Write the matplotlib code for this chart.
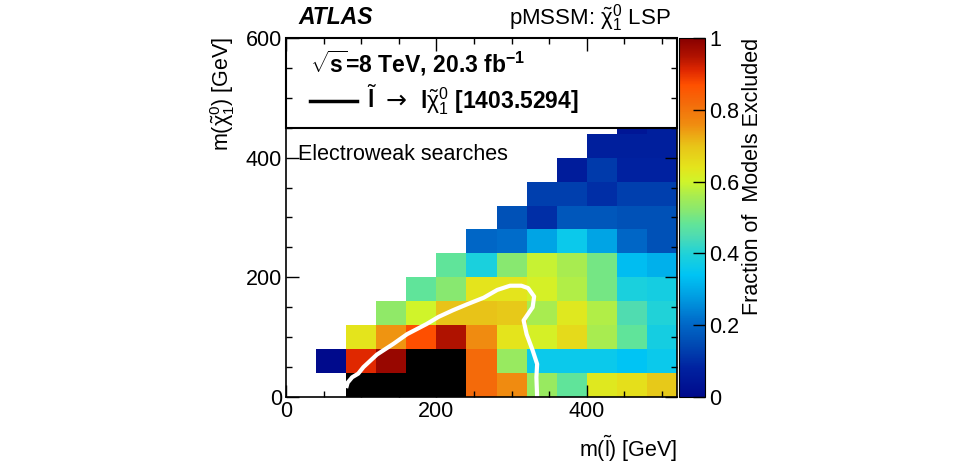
import numpy as np
import matplotlib
matplotlib.use("Agg")
import matplotlib.pyplot as plt
from matplotlib.colors import LinearSegmentedColormap, ListedColormap, Normalize
from matplotlib.patches import Rectangle
from matplotlib.ticker import MultipleLocator

plt.rcParams['font.family'] = ['Liberation Sans', 'DejaVu Sans']
plt.rcParams['mathtext.fontset'] = 'custom'
plt.rcParams['mathtext.rm'] = 'Liberation Sans'
plt.rcParams['mathtext.it'] = 'Liberation Sans:italic'
plt.rcParams['mathtext.bf'] = 'Liberation Sans:bold'
plt.rcParams['mathtext.sf'] = 'Liberation Sans'
plt.rcParams['mathtext.default'] = 'rm'

# ---------------- data ----------------
slepton_edges = [0, 40, 80, 120, 160, 200, 240, 280, 320, 360, 400, 440, 480, 520]
neutralino_edges = [0, 40, 80, 120, 160, 200, 240, 280, 320, 360, 400, 440, 480]
n = np.nan
# fraction of models excluded, one row per neutralino-mass bin (bottom -> top)
row_000_040 = [n, n, 1.00, 1.00, 1.00, 1.00, 0.82, 0.76, 0.54, 0.48, 0.63, 0.65, 0.69]
row_040_080 = [n, 0.00, 0.91, 0.98, 1.00, 1.00, 0.82, 0.54, 0.36, 0.36, 0.36, 0.34, 0.36]
row_080_120 = [n, n, 0.64, 0.75, 0.87, 0.95, 0.76, 0.64, 0.61, 0.66, 0.56, 0.48, 0.38]
row_120_160 = [n, n, n, 0.53, 0.60, 0.70, 0.70, 0.69, 0.56, 0.63, 0.57, 0.45, 0.40]
row_160_200 = [n, n, n, n, 0.48, 0.52, 0.64, 0.64, 0.61, 0.57, 0.50, 0.39, 0.38]
row_200_240 = [n, n, n, n, n, 0.48, 0.39, 0.52, 0.59, 0.56, 0.50, 0.33, 0.31]
row_240_280 = [n, n, n, n, n, n, 0.20, 0.21, 0.29, 0.36, 0.29, 0.20, 0.16]
row_280_320 = [n, n, n, n, n, n, n, 0.16, 0.10, 0.17, 0.17, 0.16, 0.16]
row_320_360 = [n, n, n, n, n, n, n, n, 0.13, 0.13, 0.10, 0.13, 0.13]
row_360_400 = [n, n, n, n, n, n, n, n, n, 0.06, 0.12, 0.08, 0.08]
row_400_440 = [n, n, n, n, n, n, n, n, n, n, 0.07, 0.07, 0.07]
row_440_480 = [n, n, n, n, n, n, n, n, n, n, n, 0.04, 0.07]

# exclusion contour of slepton -> l neutralino search [1403.5294]
contour_mslep = [80, 82, 88, 96, 103, 121, 143, 161, 187, 203, 222, 241, 263, 281,
                 298, 313, 322, 330, 328, 316, 320, 328, 334, 333, 334]
contour_mchi = [15, 24, 33, 39, 50, 71, 89, 105, 122, 134, 145, 155, 166, 179,
                186, 186, 182, 168, 150, 128, 105, 78, 55, 33, 0]

cbar_ticks = [0, 0.2, 0.4, 0.6, 0.8, 1.0]
cbar_ticklabels = ['0', '0.2', '0.4', '0.6', '0.8', '1']

# ---------------- figure ----------------
Z = np.array([row_000_040, row_040_080, row_080_120, row_120_160, row_160_200,
              row_200_240, row_240_280, row_280_320, row_320_360, row_360_400,
              row_400_440, row_440_480], dtype=float)
Zm = np.ma.masked_invalid(Z)

palette = [
    (0.00, '#000a8c'), (0.08, '#0022a0'), (0.15, '#004cb4'), (0.21, '#006cca'),
    (0.28, '#009ee2'), (0.34, '#00c4f4'), (0.40, '#20d2d8'), (0.45, '#50dcb0'),
    (0.48, '#60e49a'), (0.52, '#88e870'), (0.56, '#a8ec50'), (0.60, '#d0f42a'),
    (0.64, '#e4e41c'), (0.70, '#e8c418'), (0.76, '#f08c10'), (0.82, '#f46a0a'),
    (0.87, '#ff5000'), (0.91, '#e02800'), (0.95, '#b01200'), (1.00, '#880000'),
]
cmap = LinearSegmentedColormap.from_list('rootpal', palette, N=512)
cmap.set_bad((1, 1, 1, 0))
norm = Normalize(vmin=0, vmax=1)

FS = 15.5

fig = plt.figure(figsize=(9.6, 4.65), dpi=100)
ax = fig.add_axes([286 / 960, 1 - 397 / 465, 391 / 960, 359 / 465])
cax = fig.add_axes([679 / 960, 1 - 397 / 465, 26 / 960, 359 / 465])

mesh = ax.pcolormesh(slepton_edges, neutralino_edges, Zm, cmap=cmap, norm=norm)
full = np.ma.masked_where(~(np.nan_to_num(Z, nan=0) >= 1.0), Z)
ax.pcolormesh(slepton_edges, neutralino_edges, full, cmap=ListedColormap(['black']),
              vmin=0, vmax=2)

ax.plot(contour_mslep, contour_mchi, color='white', lw=3.0, solid_capstyle='butt',
        zorder=2)

ax.set_xlim(0, 520)
ax.set_ylim(0, 600)
ax.set_axisbelow(False)
ax.xaxis.set_major_locator(MultipleLocator(200))
ax.xaxis.set_minor_locator(MultipleLocator(50))
ax.yaxis.set_major_locator(MultipleLocator(200))
ax.yaxis.set_minor_locator(MultipleLocator(50))
ax.tick_params(which='both', direction='in', top=True, right=True, width=1.0,
               color='black', labelsize=FS)
ax.tick_params(which='major', length=9)
ax.tick_params(which='minor', length=4.5)
ax.tick_params(axis='x', pad=3)
ax.tick_params(axis='y', pad=3)
for s in ax.spines.values():
    s.set_linewidth(1.2)

# legend box
ax.add_patch(Rectangle((0, (397 - 128) / 359), 1, 1 - (397 - 128) / 359,
                       transform=ax.transAxes, facecolor='white', edgecolor='black',
                       lw=1.5, zorder=2.2, clip_on=False))
ax.text(0.061, 0.905, r'$\sqrt{\mathbf{s}}$' + '=8 TeV, 20.3 fb' + r'$^{\mathbf{-1}}$',
        transform=ax.transAxes, fontsize=16.5, fontweight='bold', va='baseline',
        ha='left', zorder=4)
ax.plot([0.061, 0.182], [0.8245, 0.8245], transform=ax.transAxes, color='black',
        lw=2.5, zorder=4, clip_on=False)
ax.text(0.207, 0.805, r'$\tilde{\mathbf{l}}$', transform=ax.transAxes, fontsize=16.5,
        fontweight='bold', va='baseline', ha='left', zorder=4)
ax.text(0.254, 0.805, '\u2192', transform=ax.transAxes, fontsize=18,
        family='DejaVu Sans', va='baseline', ha='left', zorder=4)
ax.text(0.343, 0.805, 'l' + r'$\tilde{\chi}^{0}_{1}$' + ' [1403.5294]',
        transform=ax.transAxes, fontsize=16.5, fontweight='bold', va='baseline',
        ha='left', zorder=4)
ax.text(0.031, 0.660, 'Electroweak searches', transform=ax.transAxes, fontsize=15.5,
        va='baseline', ha='left', zorder=4)

# colorbar
cb = fig.colorbar(mesh, cax=cax, ticks=cbar_ticks)
cb.ax.set_yticklabels(cbar_ticklabels)
cb.ax.tick_params(direction='in', length=9, width=1.0, labelsize=FS, pad=3,
                  right=True, left=False)
cb.outline.set_linewidth(0.8)
fig.text(752 / 960, 1 - 38 / 465, 'Fraction of  Models Excluded', rotation=90,
         ha='center', va='top', fontsize=FS)

# labels
fig.text(223 / 960, 1 - 37 / 465, r'm($\tilde{\chi}^{0}_{1}$) [GeV]', rotation=90,
         ha='center', va='top', fontsize=FS)
fig.text(677 / 960, 1 - 457 / 465, r'm($\tilde{\mathrm{l}}$) [GeV]', ha='right',
         va='baseline', fontsize=FS)
fig.text(298 / 960, 1 - 24 / 465, 'ATLAS', fontsize=16.5, fontweight='bold',
         fontstyle='italic', ha='left', va='baseline')
fig.text(671 / 960, 1 - 24 / 465, r'pMSSM: $\tilde{\chi}^{0}_{1}$ LSP', fontsize=16,
         ha='right', va='baseline')

fig.savefig('out.png', dpi=100, facecolor='white')
